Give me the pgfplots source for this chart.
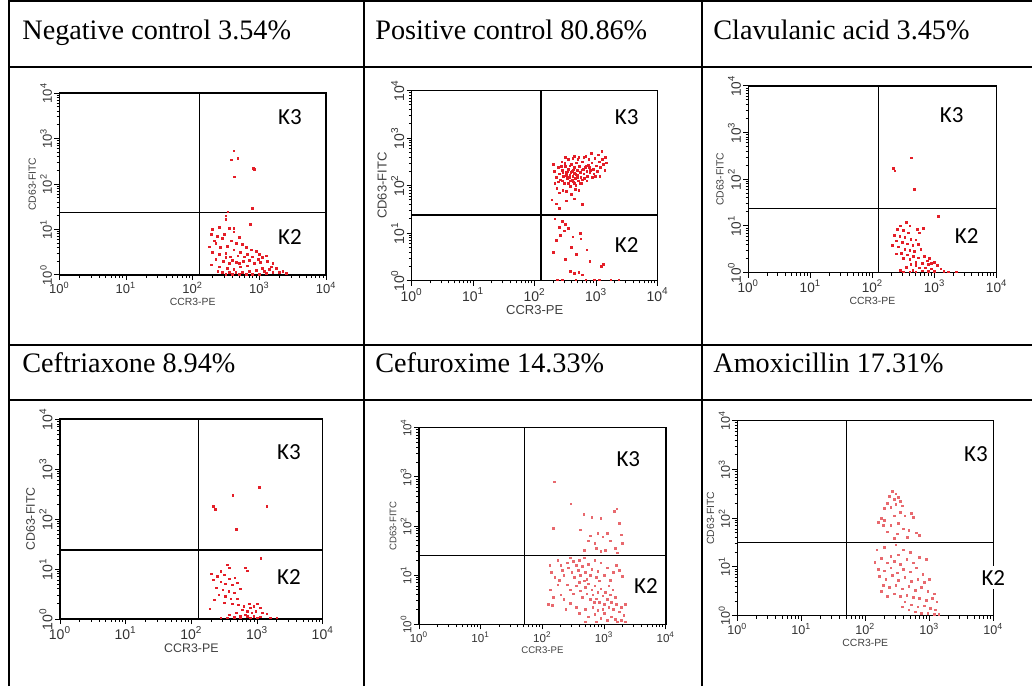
\documentclass[border=0pt]{standalone}
\usepackage{fontspec}
\setmainfont{Liberation Serif}
\setsansfont{Liberation Sans}
\newfontfamily\klab{Carlito}
\usepackage{pgfplots}
\pgfplotsset{compat=1.18}

\definecolor{dotred}{RGB}{228,30,40}
\definecolor{dotpink}{RGB}{232,105,110}

% one flow cytometry panel: log10 units on both axes, 10^0 .. 10^4
\pgfplotsset{
  flow/.style={
    scale only axis, anchor=south west,
    xmin=0, xmax=4, ymin=0, ymax=4,
    axis line style={black, line width=0.7pt},
    tick align=outside, xtick pos=lower, ytick pos=left,
    xtick={0,1,2,3,4}, ytick={0,1,2,3,4},
    xticklabels={10\textsuperscript{0},10\textsuperscript{1},10\textsuperscript{2},10\textsuperscript{3},10\textsuperscript{4}},
    yticklabels={10\textsuperscript{0},10\textsuperscript{1},10\textsuperscript{2},10\textsuperscript{3},10\textsuperscript{4}},
    minor xtick={0.301,0.477,0.602,0.699,0.778,0.845,0.903,0.954,
      1.301,1.477,1.602,1.699,1.778,1.845,1.903,1.954,
      2.301,2.477,2.602,2.699,2.778,2.845,2.903,2.954,
      3.301,3.477,3.602,3.699,3.778,3.845,3.903,3.954},
    minor ytick={0.301,0.477,0.602,0.699,0.778,0.845,0.903,0.954,
      1.301,1.477,1.602,1.699,1.778,1.845,1.903,1.954,
      2.301,2.477,2.602,2.699,2.778,2.845,2.903,2.954,
      3.301,3.477,3.602,3.699,3.778,3.845,3.903,3.954},
    major tick length=2.5pt, minor tick length=1.4pt,
    every tick/.style={black, line width=0.5pt},
    tick label style={text=black!80, inner sep=1pt},
    yticklabel style={rotate=90, anchor=south},
    xlabel={CCR3-PE}, ylabel={CD63-FITC},
    label style={text=black!75, inner sep=1pt},
  },
  fs/.style 2 args={tick label style={font=\sffamily\fontsize{#1}{#1}\selectfont},
             label style={font=\sffamily\fontsize{#2}{#2}\selectfont}},
  quad/.style={black, line width=0.7pt},
  dots/.style={only marks, mark=square*, mark size=0.42pt, color=#1},
}

\newcommand{\head}[1]{\fontsize{14.1}{16}\selectfont #1}
\newcommand{\K}[1]{\klab\fontsize{11.5}{13}\selectfont #1}

\begin{document}
\begin{tikzpicture}
% pixel grid of the reference: 1 px = 0.5 pt
\begin{scope}[x=0.5pt, y=0.5pt]
\useasboundingbox (0,0) rectangle (1032,686);
\draw[line width=1pt] (9,0) -- (9,686);
\draw[line width=1pt] (363.5,0) -- (363.5,686);
\draw[line width=1pt] (702,0) -- (702,686);
\foreach \yy in {685,619,341,286} \draw[line width=1pt] (9,\yy) -- (1032,\yy);
\node[anchor=base west, inner sep=0] at (22,646) {\head{Negative control 3.54\%}};
\node[anchor=base west, inner sep=0] at (375,646) {\head{Positive control 80.86\%}};
\node[anchor=base west, inner sep=0] at (713,646) {\head{Clavulanic acid 3.45\%}};
\node[anchor=base west, inner sep=0] at (22,314) {\head{Ceftriaxone 8.94\%}};
\node[anchor=base west, inner sep=0] at (375,314) {\head{Cefuroxime 14.33\%}};
\node[anchor=base west, inner sep=0] at (713,314) {\head{Amoxicillin 17.31\%}};
\end{scope}

% ---- Negative control
\begin{axis}[flow, fs={6.5}{5.2}, at={(29.65pt,205.5pt)}, width=133.4pt, height=90.9pt]
\addplot[quad] coordinates {(2.10,0) (2.10,4)};
\addplot[quad] coordinates {(0,1.37) (4,1.37)};
\addplot[dots=dotred] table {
lx ly
2.62 2.73
2.58 2.53
2.68 2.56
2.63 2.16
2.93 2.33
2.91 2.34
2.90 1.46
2.53 1.39
2.50 1.30
2.50 1.22
2.40 1.05
2.55 1.02
2.62 1.02
2.87 1.12
2.30 1.00
2.28 0.90
2.37 0.85
2.45 0.80
2.62 0.95
2.70 0.82
2.58 0.75
2.66 0.70
2.35 0.70
2.25 0.62
2.42 0.60
2.52 0.63
2.75 0.68
2.80 0.60
2.62 0.55
2.72 0.50
2.30 0.50
2.40 0.45
2.50 0.48
2.57 0.40
2.68 0.42
2.82 0.45
2.90 0.40
2.95 0.52
3.00 0.45
3.05 0.38
3.10 0.42
2.85 0.32
2.76 0.30
2.66 0.28
2.55 0.25
2.46 0.30
2.35 0.35
2.28 0.22
2.40 0.18
2.52 0.15
2.62 0.12
2.72 0.18
2.82 0.20
2.92 0.25
3.02 0.28
3.12 0.30
3.20 0.25
3.25 0.15
3.15 0.12
3.05 0.15
2.95 0.10
2.85 0.08
2.75 0.06
2.65 0.05
2.55 0.06
2.45 0.05
2.38 0.08
3.30 0.05
3.35 0.08
3.20 0.05
3.10 0.03
3.00 0.02
2.90 0.02
2.80 0.02
2.70 0.02
2.60 0.02
2.50 0.02
3.40 0.03
2.98 0.35
2.88 0.55
2.48 0.90
2.33 0.75
2.70 0.25
3.08 0.08
3.18 0.18
2.78 0.40
2.60 0.32
2.50 0.38
};
\end{axis}

% ---- Positive control
\begin{axis}[flow, fs={7}{6.5}, at={(205.85pt,202.65pt)}, width=123pt, height=95pt]
\addplot[quad] coordinates {(2.10,0) (2.10,4)};
\addplot[quad] coordinates {(0,1.38) (4,1.38)};
\addplot[dots=dotred] table {
lx ly
2.30 2.45
2.32 2.30
2.35 2.18
2.33 2.05
2.38 2.38
2.40 2.25
2.42 2.12
2.44 2.50
2.45 2.32
2.47 2.20
2.48 2.05
2.50 2.40
2.52 2.28
2.53 2.15
2.55 2.55
2.55 2.35
2.57 2.22
2.58 2.10
2.58 1.98
2.60 2.45
2.61 2.30
2.62 2.20
2.63 2.08
2.64 2.38
2.65 2.26
2.66 2.15
2.67 2.00
2.68 2.48
2.69 2.32
2.70 2.22
2.71 2.10
2.72 2.60
2.73 2.40
2.74 2.28
2.75 2.18
2.76 2.05
2.78 2.50
2.79 2.35
2.80 2.25
2.81 2.15
2.83 2.62
2.84 2.42
2.85 2.30
2.86 2.20
2.88 2.55
2.89 2.38
2.90 2.28
2.92 2.68
2.93 2.48
2.95 2.35
2.96 2.25
2.98 2.58
3.00 2.42
3.02 2.30
3.04 2.65
3.05 2.50
3.07 2.38
3.09 2.72
3.10 2.55
3.12 2.45
3.14 2.32
3.15 2.60
3.17 2.48
2.36 1.95
2.40 1.85
2.46 1.90
2.52 1.88
2.60 1.82
2.66 1.92
2.72 1.90
2.50 2.60
2.62 2.58
2.57 2.42
2.49 2.47
2.43 2.40
2.54 2.30
2.59 2.28
2.63 2.33
2.67 2.24
2.69 2.18
2.61 2.12
2.56 2.18
2.51 2.22
2.46 2.27
2.77 2.33
2.82 2.38
2.87 2.44
2.91 2.32
2.94 2.18
2.99 2.20
3.06 2.20
2.85 2.10
2.78 2.12
2.74 2.05
2.65 2.05
2.55 2.05
2.45 2.10
2.38 2.08
2.70 2.55
2.80 2.60
2.65 2.62
2.28 1.70
2.35 1.62
2.52 1.68
2.65 1.72
2.78 1.60
2.40 1.52
2.33 1.30
2.45 1.25
2.50 1.18
2.40 1.12
2.55 1.10
2.48 1.05
2.42 0.95
2.62 0.92
2.75 0.88
2.74 1.00
2.35 0.85
2.60 0.70
2.85 0.65
2.30 0.60
2.68 0.55
2.50 0.45
2.90 0.40
3.12 0.35
3.08 0.30
2.58 0.20
2.72 0.18
2.65 0.15
2.78 0.12
2.37 0.02
2.67 0.02
2.83 0.02
2.97 0.02
3.05 0.02
3.24 0.02
3.37 0.02
2.45 0.02
};
\end{axis}

% ---- Clavulanic acid
\begin{axis}[flow, fs={6.8}{5.2}, at={(374.15pt,206.65pt)}, width=124.2pt, height=93.4pt]
\addplot[quad] coordinates {(2.10,0) (2.10,4)};
\addplot[quad] coordinates {(0,1.37) (4,1.37)};
\addplot[dots=dotred] table {
lx ly
2.63 2.46
2.34 2.24
2.36 2.18
2.68 1.79
3.06 1.21
2.55 1.08
2.60 1.00
2.45 1.00
2.40 0.92
2.50 0.90
2.58 0.85
2.72 0.93
2.76 0.85
2.82 0.95
2.35 0.80
2.44 0.78
2.52 0.75
2.62 0.72
2.70 0.70
2.38 0.68
2.48 0.65
2.56 0.62
2.65 0.58
2.74 0.60
2.32 0.58
2.42 0.55
2.52 0.50
2.60 0.48
2.68 0.45
2.78 0.50
2.46 0.42
2.38 0.40
2.56 0.38
2.66 0.35
2.74 0.32
2.84 0.35
2.92 0.30
2.50 0.30
2.60 0.28
2.70 0.22
2.80 0.20
2.90 0.18
3.00 0.22
3.05 0.15
2.62 0.18
2.55 0.12
2.75 0.10
2.85 0.10
2.95 0.08
3.10 0.08
2.45 0.05
2.65 0.05
2.80 0.04
2.90 0.03
3.00 0.03
3.15 0.03
2.70 0.02
2.60 0.02
2.50 0.02
3.22 0.02
3.35 0.02
2.95 0.20
2.70 0.15
2.88 0.25
};
\end{axis}

% ---- Ceftriaxone
\begin{axis}[flow, fs={7}{6.2}, at={(30pt,33.5pt)}, width=131.4pt, height=99.9pt]
\addplot[quad] coordinates {(2.11,0) (2.11,4)};
\addplot[quad] coordinates {(0,1.38) (4,1.38)};
\addplot[dots=dotred] table {
lx ly
3.04 2.64
2.63 2.47
2.33 2.26
2.37 2.20
3.15 2.25
2.69 1.80
3.06 1.21
2.55 1.08
2.58 1.02
2.82 1.02
2.85 0.96
2.30 0.90
2.45 0.95
2.50 0.88
2.40 0.85
2.58 0.80
2.66 0.82
2.34 0.78
2.45 0.74
2.52 0.70
2.62 0.68
2.70 0.72
2.75 0.60
2.38 0.62
2.48 0.58
2.57 0.55
2.65 0.52
2.42 0.48
2.52 0.45
2.60 0.40
2.70 0.40
2.35 0.38
2.50 0.32
2.62 0.30
2.72 0.28
2.80 0.25
2.88 0.30
2.95 0.25
3.00 0.30
3.05 0.22
2.78 0.18
2.85 0.15
2.92 0.12
2.98 0.15
3.08 0.12
3.15 0.10
2.68 0.12
2.58 0.08
2.28 0.20
2.75 0.05
2.85 0.05
2.95 0.05
3.05 0.04
2.65 0.03
2.55 0.02
2.45 0.02
2.75 0.02
2.90 0.02
3.00 0.02
3.20 0.02
3.30 0.02
2.82 0.08
2.90 0.22
};
\end{axis}

% ---- Cefuroxime
\begin{axis}[flow, fs={5.8}{4.8}, at={(209.5pt,30.85pt)}, width=123.4pt, height=98.3pt]
\addplot[quad] coordinates {(1.71,0) (1.71,4)};
\addplot[quad] coordinates {(0,1.40) (4,1.40)};
\addplot[dots=dotpink] table {
lx ly
2.19 2.90
2.46 2.45
2.18 1.95
2.67 2.24
3.21 2.35
3.17 2.30
2.62 1.92
2.80 2.18
2.95 2.15
3.25 2.05
2.90 1.85
2.78 1.80
2.98 1.78
3.05 1.85
3.10 1.70
2.75 1.70
2.85 1.65
3.28 1.82
3.30 1.65
2.88 1.55
3.18 1.55
2.95 1.48
3.02 1.50
2.68 1.50
3.22 1.45
2.12 1.20
2.15 1.05
2.20 0.95
2.13 0.70
2.18 0.55
2.10 0.40
2.16 0.38
2.25 1.30
2.30 1.20
2.32 1.10
2.28 0.90
2.35 1.00
2.40 1.25
2.42 1.15
2.45 1.35
2.48 1.05
2.50 1.28
2.52 0.95
2.55 1.20
2.58 1.10
2.60 1.30
2.62 1.00
2.65 1.18
2.68 1.35
2.70 1.05
2.72 0.92
2.75 1.22
2.78 1.00
2.80 1.12
2.85 1.30
2.88 0.95
2.90 1.08
2.95 1.25
3.00 1.00
3.05 1.15
3.10 0.90
3.15 1.05
3.20 1.20
3.25 1.10
3.30 0.98
2.40 0.80
2.45 0.70
2.50 0.62
2.55 0.78
2.60 0.85
2.62 0.68
2.65 0.55
2.70 0.75
2.72 0.62
2.75 0.82
2.78 0.50
2.80 0.70
2.82 0.60
2.85 0.78
2.88 0.52
2.90 0.65
2.92 0.45
2.95 0.72
2.98 0.58
3.00 0.40
3.02 0.65
3.05 0.50
3.08 0.35
3.10 0.60
3.12 0.45
3.15 0.30
3.18 0.55
3.20 0.40
3.25 0.25
3.28 0.35
3.32 0.18
2.35 0.50
2.30 0.60
2.45 0.42
2.55 0.35
2.60 0.22
2.70 0.30
2.75 0.15
2.82 0.35
2.85 0.20
2.90 0.28
2.95 0.12
3.00 0.22
3.05 0.08
3.12 0.15
3.18 0.10
3.22 0.05
3.28 0.08
2.88 0.05
2.70 0.05
3.35 0.05
2.98 0.30
2.92 0.88
2.68 0.88
3.08 0.78
2.84 0.45
3.14 0.70
2.25 0.80
2.38 0.30
3.35 0.40
};
\end{axis}

% ---- Amoxicillin
\begin{axis}[flow, fs={6.3}{5.2}, at={(368.65pt,35.15pt)}, width=128pt, height=97.5pt]
\addplot[quad] coordinates {(1.71,0) (1.71,4)};
\addplot[quad] coordinates {(0,1.50) (4,1.50)};
\addplot[dots=dotpink] table {
lx ly
2.42 2.55
2.48 2.50
2.38 2.45
2.52 2.42
2.45 2.38
2.35 2.30
2.55 2.35
2.40 2.22
2.30 2.20
2.48 2.28
2.58 2.25
2.25 2.00
2.20 1.92
2.30 1.95
2.45 2.05
2.62 2.05
2.72 2.10
2.75 2.02
2.52 1.90
2.40 1.85
2.60 1.78
2.68 1.75
2.35 1.72
2.50 1.68
2.80 1.70
2.85 1.65
2.45 1.58
2.28 1.85
2.55 2.12
2.66 1.60
2.18 1.35
2.30 1.40
2.48 1.45
2.60 1.35
2.70 1.30
2.52 1.25
2.40 1.22
2.25 1.18
2.15 1.10
2.35 1.08
2.45 1.12
2.55 1.05
2.65 1.15
2.75 1.08
2.85 1.20
2.95 1.15
2.20 0.95
2.30 0.92
2.40 0.98
2.50 0.88
2.60 0.95
2.70 0.90
2.80 0.98
2.90 0.85
2.22 0.80
2.32 0.75
2.42 0.82
2.52 0.72
2.62 0.78
2.72 0.70
2.82 0.75
2.92 0.68
3.00 0.75
2.28 0.62
2.38 0.58
2.48 0.62
2.58 0.55
2.68 0.60
2.78 0.52
2.88 0.58
2.98 0.50
3.08 0.45
2.45 0.45
2.55 0.40
2.65 0.42
2.75 0.38
2.85 0.35
2.95 0.32
3.05 0.35
3.12 0.28
2.62 0.28
2.72 0.22
2.82 0.18
2.92 0.20
3.02 0.15
3.10 0.12
2.78 0.08
2.88 0.05
2.98 0.05
3.08 0.03
3.15 0.02
2.68 0.12
2.58 0.18
2.35 0.40
2.25 0.50
};
\end{axis}

% quadrant names
\begin{scope}[x=0.5pt, y=0.5pt]
\node[fill=white, inner sep=2pt] at (290,569) {\K{K3}};
\node[fill=white, inner sep=2pt] at (290,449) {\K{K2}};
\node[fill=white, inner sep=2pt] at (626.7,569.3) {\K{K3}};
\node[fill=white, inner sep=2pt] at (626.7,441) {\K{K2}};
\node[fill=white, inner sep=2pt] at (951.7,571) {\K{K3}};
\node[fill=white, inner sep=2pt] at (966.7,450) {\K{K2}};
\node[fill=white, inner sep=2pt] at (289,233.7) {\K{K3}};
\node[fill=white, inner sep=2pt] at (289,108.7) {\K{K2}};
\node[fill=white, inner sep=2pt] at (628.3,226.7) {\K{K3}};
\node[fill=white, inner sep=2pt] at (646,100.3) {\K{K2}};
\node[fill=white, inner sep=2pt] at (976,232) {\K{K3}};
\node[fill=white, inner sep=2pt] at (993.3,108.3) {\K{K2}};
\end{scope}
\end{tikzpicture}
\end{document}
